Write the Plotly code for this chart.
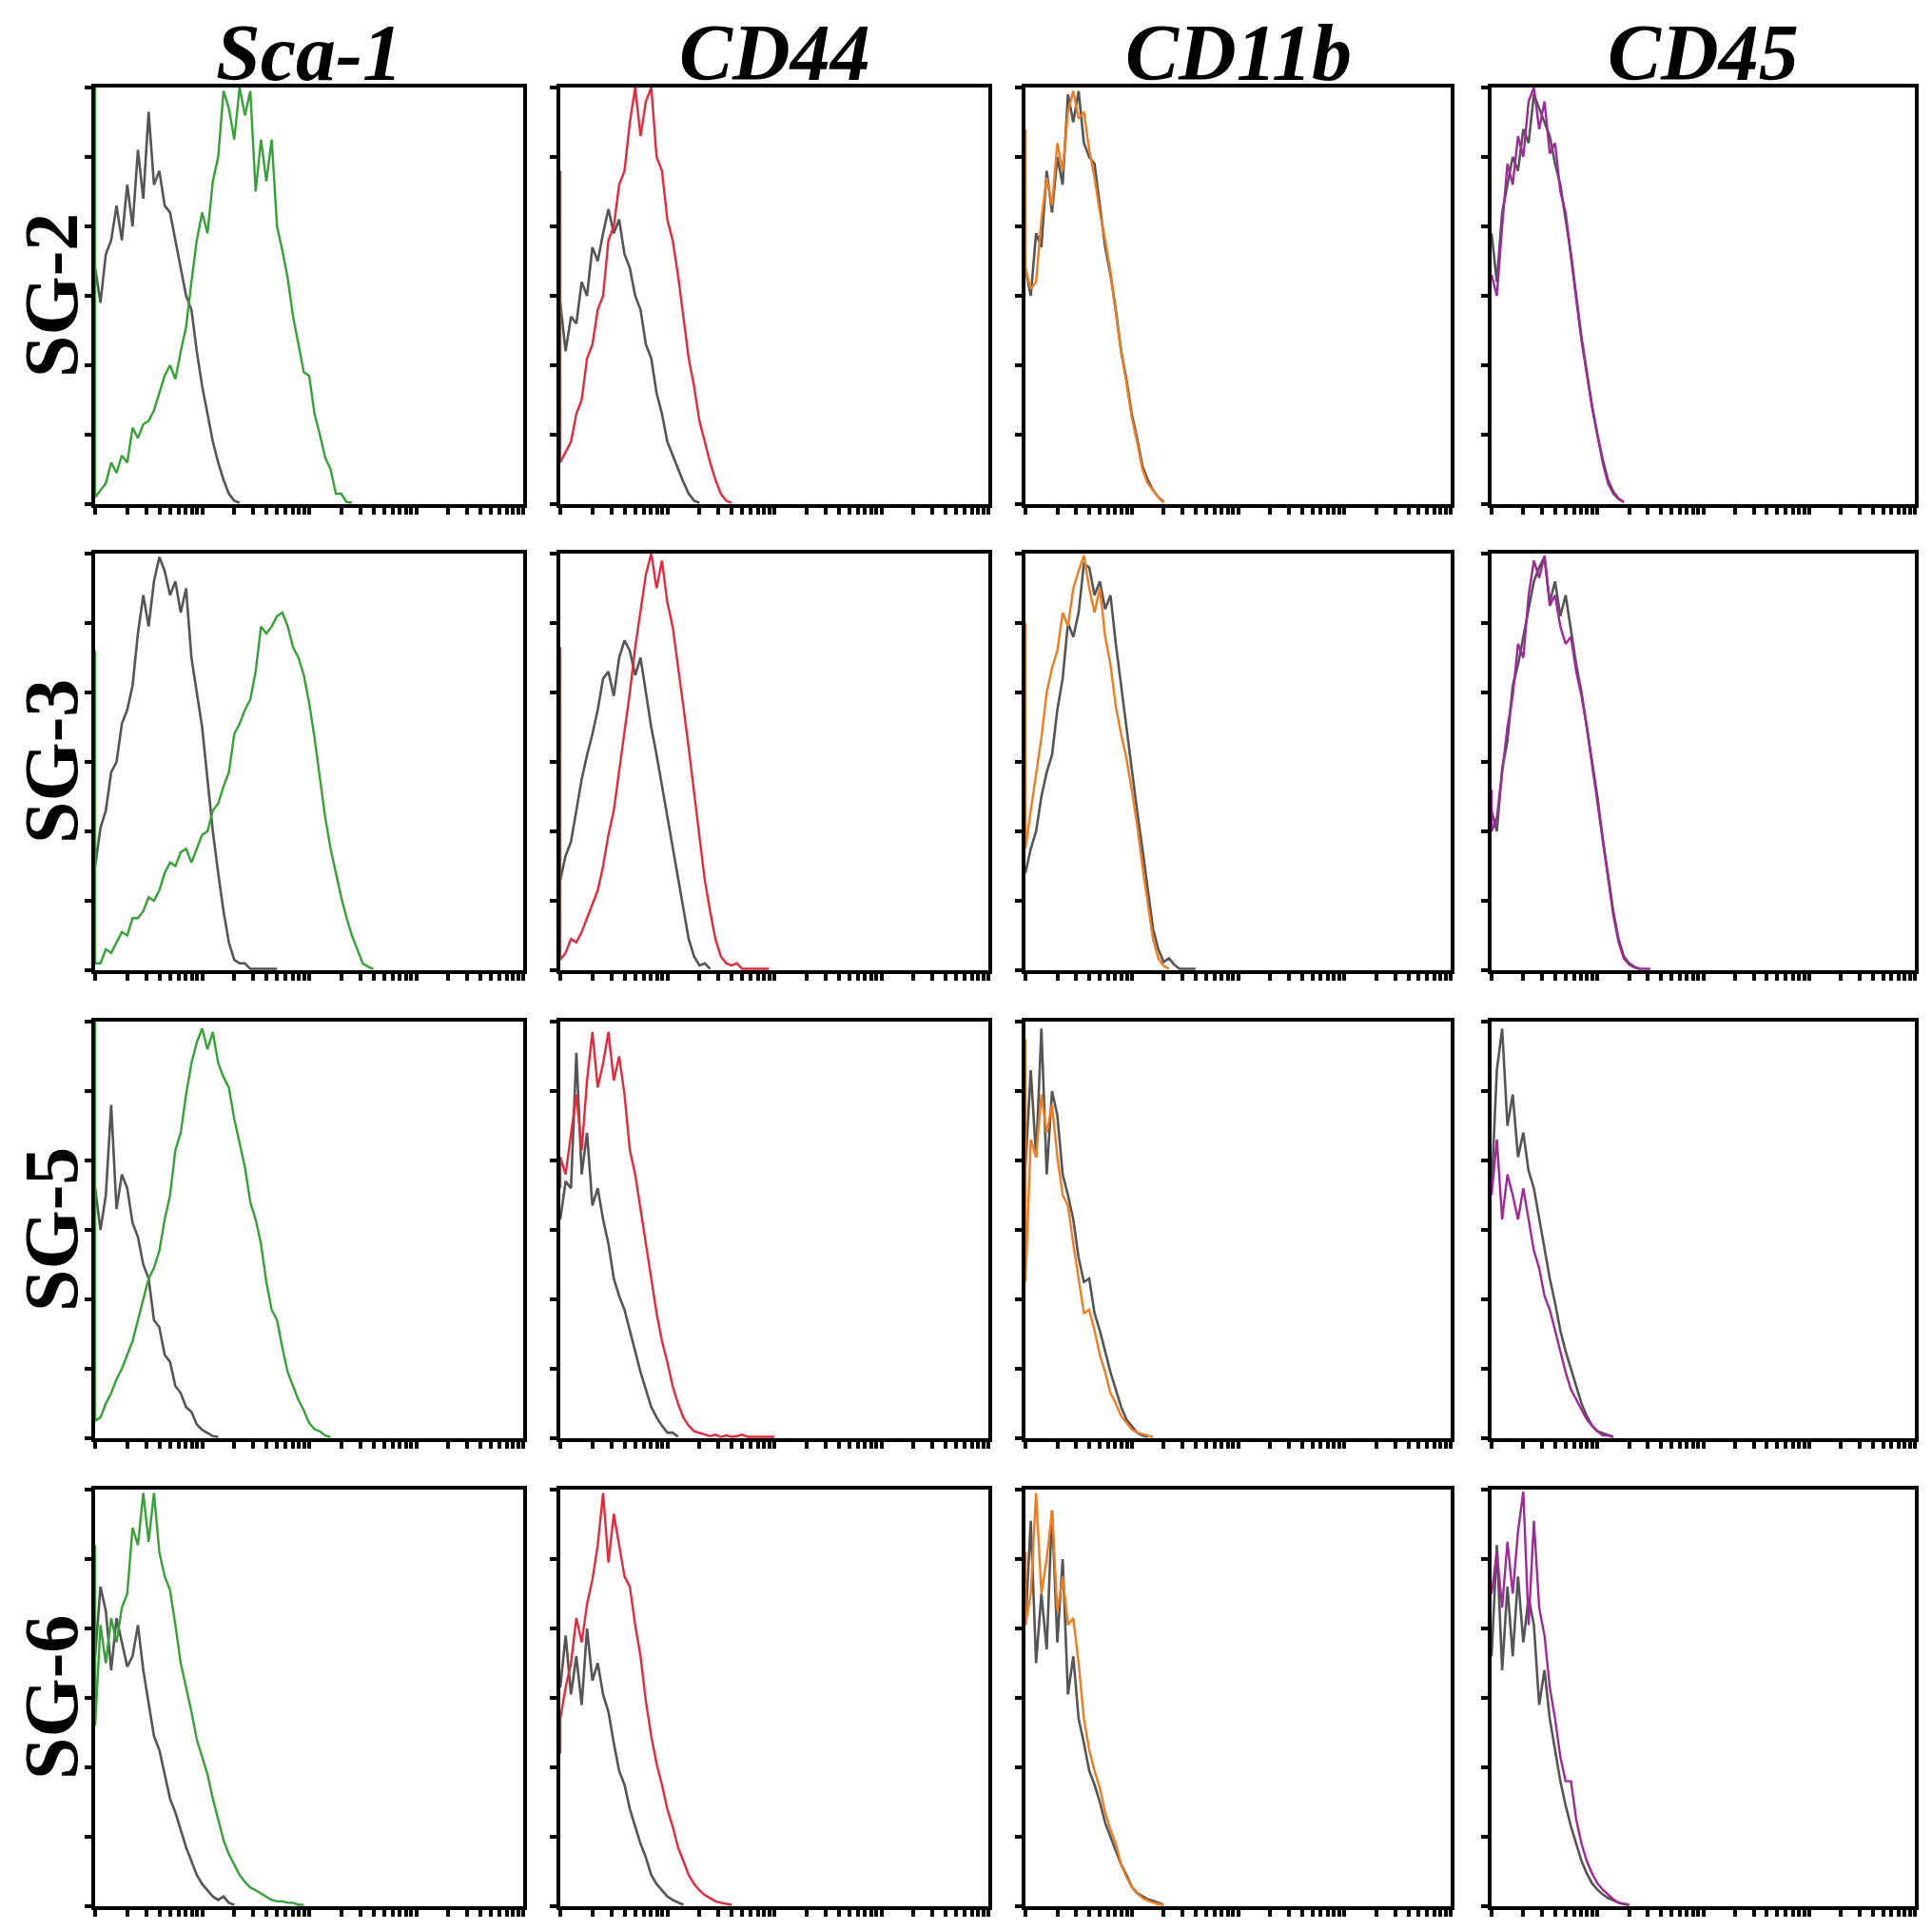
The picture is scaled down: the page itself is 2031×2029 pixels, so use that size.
import plotly.graph_objects as go

# log-decade position of each histogram channel (0 = 10^0, 4 = 10^4)
decades = [0.00, 0.05, 0.10, 0.15, 0.20, 0.25, 0.30, 0.35, 0.40, 0.45,
           0.50, 0.55, 0.60, 0.65, 0.70, 0.75, 0.80, 0.85, 0.90, 0.95,
           1.00, 1.05, 1.10, 1.15, 1.20, 1.25, 1.30, 1.35, 1.40, 1.45,
           1.50, 1.55, 1.60, 1.65, 1.70, 1.75, 1.80, 1.85, 1.90, 1.95,
           2.00, 2.05, 2.10, 2.15, 2.20, 2.25, 2.30, 2.35, 2.40, 2.45,
           2.50, 2.55, 2.60]

markers = ["Sca-1", "CD44", "CD11b", "CD45"]
samples = ["SG-2", "SG-3", "SG-5", "SG-6"]
marker_colors = ["#34a234", "#e8283a", "#f07c1e", "#a02898"]
ctrl_color = "#555555"

# grey = isotype control, coloured = antibody stained (counts, scale 0-6)
sg2_sca1_ctrl = [3.4, 2.9, 3.6, 3.8, 4.3, 3.8, 4.6, 4.0, 5.1, 4.4, 5.65, 4.6, 4.8, 4.3, 4.2, 3.8, 3.4, 3.0,
                 2.8, 2.2, 1.7, 1.3, 0.9, 0.6, 0.35, 0.15, 0.05, 0.02]
sg2_sca1_stain = [0.1, 0.2, 0.3, 0.6, 0.45, 0.7, 0.6, 1.1, 0.95, 1.15, 1.2, 1.35, 1.6, 1.85, 2.0, 1.8, 2.2,
                  2.55, 3.2, 3.8, 4.2, 3.9, 4.65, 5.0, 5.95, 5.7, 5.25, 6.0, 5.6, 5.95, 4.5, 5.25, 4.65, 5.25,
                  4.0, 3.65, 3.25, 2.7, 2.3, 1.9, 1.85, 1.3, 1.0, 0.67, 0.5, 0.15, 0.15, 0.03, 0.02]
sg2_cd44_ctrl = [2.9, 2.2, 2.7, 2.6, 3.2, 3.0, 3.7, 3.5, 3.9, 4.25, 3.9, 4.1, 3.6, 3.4, 3.0, 2.8, 2.3, 2.1,
                 1.6, 1.3, 0.9, 0.7, 0.5, 0.32, 0.15, 0.05, 0.02]
sg2_cd44_stain = [0.6, 0.75, 0.9, 1.3, 1.5, 2.1, 2.3, 2.8, 3.0, 3.8, 4.0, 4.6, 4.8, 5.5, 6.0, 5.3, 5.8, 6.0,
                  5.0, 4.8, 4.1, 3.8, 3.3, 2.7, 2.1, 1.7, 1.2, 0.9, 0.6, 0.35, 0.15, 0.05, 0.02]
sg2_cd11b_ctrl = [3.4, 3.0, 3.9, 3.7, 4.8, 4.2, 5.0, 4.6, 5.9, 5.5, 5.95, 5.2, 5.0, 4.9, 4.3, 3.7, 3.3, 2.8,
                  2.2, 1.8, 1.3, 0.95, 0.55, 0.35, 0.2, 0.1, 0.03]
sg2_cd11b_stain = [3.4, 3.1, 3.2, 4.1, 4.7, 4.3, 5.2, 4.8, 5.65, 5.95, 5.55, 5.65, 5.1, 4.7, 4.2, 3.8, 3.35,
                   2.75, 2.2, 1.75, 1.25, 0.9, 0.5, 0.3, 0.2, 0.1, 0.02]
sg2_cd45_ctrl = [3.9, 3.2, 4.2, 4.6, 5.0, 4.8, 5.4, 5.2, 5.9, 5.7, 5.5, 5.3, 4.9, 4.6, 4.1, 3.6, 3.0, 2.4,
                 1.9, 1.4, 1.0, 0.65, 0.35, 0.18, 0.08, 0.03]
sg2_cd45_stain = [3.3, 3.0, 4.0, 4.9, 4.6, 5.3, 5.0, 5.8, 6.0, 5.4, 5.8, 5.05, 5.2, 4.5, 4.2, 3.55, 2.95,
                  2.35, 1.85, 1.4, 1.0, 0.6, 0.3, 0.15, 0.07, 0.03]

sg3_sca1_ctrl = [1.5, 2.05, 2.3, 2.85, 3.0, 3.55, 3.75, 4.1, 4.85, 5.4, 4.95, 5.6, 5.95, 5.75, 5.4, 5.6,
                 5.15, 5.5, 4.5, 4.0, 3.5, 2.75, 2.0, 1.4, 0.85, 0.4, 0.15, 0.1, 0.1, 0.02, 0.02, 0.03,
                 0.02, 0.02, 0.02]
sg3_sca1_stain = [0.1, 0.1, 0.3, 0.25, 0.4, 0.55, 0.5, 0.75, 0.75, 0.85, 1.05, 1.0, 1.15, 1.4, 1.55, 1.5,
                  1.7, 1.75, 1.55, 1.75, 1.95, 2.0, 2.3, 2.4, 2.65, 2.85, 3.4, 3.55, 3.75, 3.9, 4.3, 4.95,
                  4.85, 4.95, 5.1, 5.15, 4.95, 4.65, 4.5, 4.25, 3.85, 3.35, 2.75, 2.2, 1.75, 1.4, 1.05,
                  0.75, 0.5, 0.3, 0.1, 0.05, 0.02]
sg3_cd44_ctrl = [1.3, 1.65, 1.85, 2.3, 2.75, 3.1, 3.4, 3.75, 4.2, 4.3, 3.95, 4.5, 4.75, 4.6, 4.25, 4.5, 4.0,
                 3.5, 3.1, 2.65, 2.2, 1.75, 1.3, 0.85, 0.45, 0.2, 0.07, 0.1, 0.02]
sg3_cd44_stain = [0.15, 0.25, 0.45, 0.4, 0.55, 0.75, 0.95, 1.15, 1.5, 1.95, 2.3, 2.85, 3.4, 4.0, 4.65, 5.15,
                  5.7, 6.0, 5.5, 5.9, 5.3, 4.95, 4.4, 3.8, 3.2, 2.55, 1.9, 1.3, 0.85, 0.45, 0.2, 0.1, 0.07,
                  0.1, 0.02, 0.02, 0.03, 0.02, 0.02, 0.02]
sg3_cd11b_ctrl = [1.4, 1.75, 2.0, 2.5, 2.85, 3.1, 3.75, 4.2, 5.0, 4.8, 5.15, 5.85, 5.8, 5.4, 5.6, 5.2, 5.4,
                  4.7, 4.1, 3.5, 2.85, 2.3, 1.75, 1.15, 0.6, 0.3, 0.12, 0.17, 0.08, 0.02, 0.02, 0.03, 0.02]
sg3_cd11b_stain = [1.75, 2.3, 2.8, 3.35, 4.0, 4.35, 4.6, 5.15, 4.95, 5.5, 5.75, 5.97, 5.5, 5.15, 5.5, 4.8,
                   4.4, 3.8, 3.4, 3.05, 2.6, 2.1, 1.5, 0.95, 0.45, 0.17, 0.06, 0.02]
sg3_cd45_ctrl = [2.3, 2.0, 2.9, 3.3, 4.1, 4.4, 4.8, 5.2, 5.6, 5.8, 5.95, 5.3, 5.6, 5.1, 5.4, 4.9, 4.4, 4.0,
                 3.5, 3.0, 2.5, 1.9, 1.35, 0.85, 0.45, 0.2, 0.1, 0.05, 0.02]
sg3_cd45_stain = [2.0, 2.2, 2.85, 3.5, 3.95, 4.7, 4.5, 5.4, 5.9, 5.65, 5.97, 5.25, 5.4, 4.95, 4.7, 4.8, 4.3,
                  3.95, 3.5, 2.95, 2.4, 1.85, 1.3, 0.8, 0.4, 0.17, 0.08, 0.04, 0.02, 0.02, 0.02]

sg5_sca1_ctrl = [3.6, 3.0, 3.5, 4.8, 3.3, 3.8, 3.6, 3.1, 2.9, 2.5, 2.3, 1.7, 1.6, 1.2, 1.1, 0.75, 0.65,
                 0.45, 0.38, 0.2, 0.12, 0.08, 0.03, 0.02]
sg5_sca1_stain = [0.25, 0.3, 0.5, 0.65, 0.85, 1.0, 1.2, 1.4, 1.7, 2.0, 2.3, 2.45, 2.7, 3.15, 3.5, 4.15, 4.4,
                  4.95, 5.4, 5.7, 5.9, 5.6, 5.85, 5.4, 5.2, 5.05, 4.6, 4.25, 3.9, 3.4, 3.15, 2.8, 2.25,
                  1.85, 1.7, 1.3, 0.95, 0.75, 0.55, 0.4, 0.22, 0.13, 0.1, 0.04, 0.02]
sg5_cd44_ctrl = [3.15, 3.7, 3.6, 5.55, 3.8, 4.4, 3.35, 3.6, 3.15, 2.8, 2.3, 2.05, 1.85, 1.55, 1.25, 0.95,
                 0.7, 0.45, 0.3, 0.18, 0.08, 0.08, 0.02]
sg5_cd44_stain = [4.05, 3.8, 4.4, 4.95, 4.15, 5.15, 5.85, 5.05, 5.4, 5.85, 5.15, 5.5, 4.95, 4.15, 3.8, 3.3,
                  2.8, 2.25, 1.8, 1.4, 1.1, 0.75, 0.5, 0.3, 0.18, 0.1, 0.08, 0.06, 0.03, 0.05, 0.02, 0.04,
                  0.02, 0.03, 0.05, 0.02, 0.02, 0.03, 0.02, 0.02, 0.02]
sg5_cd11b_ctrl = [3.9, 5.3, 4.05, 5.9, 3.8, 5.0, 4.65, 3.8, 3.5, 3.15, 2.6, 2.25, 2.3, 1.8, 1.55, 1.25, 0.95,
                  0.7, 0.45, 0.27, 0.18, 0.08, 0.04, 0.02]
sg5_cd11b_stain = [2.25, 4.3, 4.05, 4.95, 4.4, 4.8, 4.05, 3.5, 3.35, 2.8, 2.3, 1.8, 1.85, 1.55, 1.2, 0.95,
                   0.65, 0.5, 0.32, 0.22, 0.13, 0.08, 0.06, 0.04, 0.02]
sg5_cd45_ctrl = [3.6, 5.3, 5.9, 4.5, 4.95, 4.05, 4.4, 3.85, 3.6, 3.15, 2.7, 2.3, 1.95, 1.55, 1.25, 1.0, 0.75,
                 0.5, 0.32, 0.18, 0.1, 0.07, 0.04, 0.02]
sg5_cd45_stain = [3.5, 4.3, 3.15, 3.8, 3.5, 3.15, 3.6, 3.15, 2.7, 2.45, 2.05, 1.85, 1.55, 1.25, 0.95, 0.7,
                  0.55, 0.4, 0.27, 0.18, 0.1, 0.04, 0.04, 0.02]

sg6_sca1_ctrl = [3.6, 4.6, 4.25, 3.4, 4.15, 3.8, 3.45, 3.6, 4.05, 3.4, 2.9, 2.45, 2.25, 1.9, 1.55, 1.35, 1.1,
                 0.85, 0.65, 0.45, 0.32, 0.23, 0.14, 0.09, 0.14, 0.05, 0.02]
sg6_sca1_stain = [2.6, 4.05, 3.5, 4.15, 3.8, 4.3, 4.5, 5.45, 5.2, 5.95, 5.25, 5.95, 5.1, 4.75, 4.55, 4.05,
                  3.5, 3.15, 2.8, 2.4, 2.15, 1.9, 1.55, 1.25, 0.95, 0.75, 0.6, 0.45, 0.35, 0.27, 0.23, 0.18,
                  0.14, 0.09, 0.07, 0.07, 0.05, 0.05, 0.02, 0.02]
sg6_cd44_ctrl = [3.15, 3.9, 3.05, 3.6, 2.9, 4.0, 3.25, 3.5, 3.05, 2.8, 2.35, 1.95, 1.75, 1.4, 1.15, 0.9, 0.7,
                 0.45, 0.32, 0.23, 0.14, 0.09, 0.05, 0.02]
sg6_cd44_stain = [2.7, 3.15, 3.5, 4.15, 3.8, 4.35, 4.7, 5.2, 5.95, 4.95, 5.65, 5.2, 4.75, 4.6, 4.05, 3.6,
                  2.95, 2.45, 2.05, 1.75, 1.4, 1.15, 0.85, 0.65, 0.45, 0.32, 0.23, 0.16, 0.11, 0.07, 0.05,
                  0.03, 0.02]
sg6_cd11b_ctrl = [4.05, 5.55, 3.5, 4.5, 3.7, 5.7, 3.8, 5.0, 3.05, 3.6, 2.7, 2.35, 1.95, 1.75, 1.5, 1.2, 1.0,
                  0.8, 0.6, 0.45, 0.28, 0.19, 0.15, 0.1, 0.08, 0.05, 0.02]
sg6_cd11b_stain = [4.05, 4.5, 5.95, 4.5, 5.0, 5.7, 4.25, 4.75, 4.05, 4.15, 3.5, 2.7, 2.25, 1.95, 1.7, 1.35,
                   1.1, 0.9, 0.6, 0.42, 0.28, 0.19, 0.12, 0.08, 0.05, 0.03, 0.02]
sg6_cd45_ctrl = [3.6, 5.2, 3.4, 4.6, 3.6, 4.75, 3.8, 4.45, 4.05, 2.9, 3.4, 2.7, 2.25, 1.8, 1.45, 1.15, 0.9,
                 0.65, 0.47, 0.33, 0.24, 0.17, 0.12, 0.08, 0.05, 0.03, 0.02]
sg6_cd45_stain = [4.5, 5.1, 4.3, 5.25, 4.5, 5.4, 5.97, 4.05, 5.55, 4.3, 3.9, 3.15, 2.7, 2.15, 1.8, 1.8, 1.25,
                  0.9, 0.65, 0.47, 0.33, 0.24, 0.17, 0.1, 0.05, 0.03, 0.02]

# pile-up in the lowest channel of the stained sample (None = no pile-up)
sg2_edge = [6.5, 4.8, 5.4, None]
sg3_edge = [4.6, 4.65, 5.0, 2.6]
sg5_edge = [6.5, 3.6, 5.75, None]
sg6_edge = [5.2, 2.2, 5.1, None]

ctrl = [[sg2_sca1_ctrl, sg2_cd44_ctrl, sg2_cd11b_ctrl, sg2_cd45_ctrl],
        [sg3_sca1_ctrl, sg3_cd44_ctrl, sg3_cd11b_ctrl, sg3_cd45_ctrl],
        [sg5_sca1_ctrl, sg5_cd44_ctrl, sg5_cd11b_ctrl, sg5_cd45_ctrl],
        [sg6_sca1_ctrl, sg6_cd44_ctrl, sg6_cd11b_ctrl, sg6_cd45_ctrl]]
stain = [[sg2_sca1_stain, sg2_cd44_stain, sg2_cd11b_stain, sg2_cd45_stain],
         [sg3_sca1_stain, sg3_cd44_stain, sg3_cd11b_stain, sg3_cd45_stain],
         [sg5_sca1_stain, sg5_cd44_stain, sg5_cd11b_stain, sg5_cd45_stain],
         [sg6_sca1_stain, sg6_cd44_stain, sg6_cd11b_stain, sg6_cd45_stain]]
edges = [sg2_edge, sg3_edge, sg5_edge, sg6_edge]

# page pixels; the html body adds an 8px margin, so the figure is laid out inside it
PAGE_W, PAGE_H = 2031, 2029
OFF = 8
W, H = PAGE_W - 2 * OFF, PAGE_H - 2 * OFF
col_left = [100, 589, 1078, 1568]
col_w = [450, 450, 447, 445]
row_top = [92, 582, 1074, 1566]
ph = 438

fig = go.Figure()
layout = {}

for i, s in enumerate(samples):
    for j, m in enumerate(markers):
        k = i * 4 + j + 1
        xa = "x" if k == 1 else f"x{k}"
        ya = "y" if k == 1 else f"y{k}"

        c = ctrl[i][j]
        fig.add_trace(go.Scatter(
            x=[10 ** d for d in decades[:len(c)]], y=c,
            mode="lines", line=dict(color=ctrl_color, width=2.6),
            xaxis=xa, yaxis=ya, showlegend=False))

        st = stain[i][j]
        sx = [10 ** d for d in decades[:len(st)]]
        sy = list(st)
        if edges[i][j] is not None:
            sx = [10 ** decades[0]] + sx
            sy = [edges[i][j]] + sy
        fig.add_trace(go.Scatter(
            x=sx, y=sy, mode="lines",
            line=dict(color=marker_colors[j], width=2.4),
            xaxis=xa, yaxis=ya, showlegend=False))

        x0 = (col_left[j] - OFF) / W
        x1 = (col_left[j] - OFF + col_w[j]) / W
        y1 = 1 - (row_top[i] - OFF) / H
        y0 = 1 - (row_top[i] - OFF + ph) / H

        axis_style = dict(showgrid=False, zeroline=False, showline=True, mirror=True,
                          linecolor="black", linewidth=4, ticks="outside",
                          tickcolor="black", tickwidth=3.5, ticklen=7,
                          showticklabels=False)
        layout["xaxis" if k == 1 else f"xaxis{k}"] = dict(
            axis_style, type="log", range=[0, 4], dtick="D1",
            domain=[x0, x1], anchor=ya)
        layout["yaxis" if k == 1 else f"yaxis{k}"] = dict(
            axis_style, range=[0, 6], dtick=1, tick0=0,
            domain=[y0, y1], anchor=xa)

annotations = []
for j, m in enumerate(markers):
    annotations.append(dict(
        text=m, xref="paper", yref="paper",
        x=(col_left[j] - OFF + col_w[j] / 2) / W, y=1 - 48 / H,
        xanchor="center", yanchor="middle", showarrow=False,
        font=dict(family="Liberation Serif", size=84, color="black",
                  weight="bold", style="italic")))
for i, s in enumerate(samples):
    annotations.append(dict(
        text=s, xref="paper", yref="paper",
        x=46 / W, y=1 - (row_top[i] - OFF + ph / 2) / H,
        xanchor="center", yanchor="middle", showarrow=False, textangle=-90,
        font=dict(family="Liberation Serif", size=80, color="black", weight="bold")))

fig.update_layout(
    **layout,
    annotations=annotations,
    width=W, height=H,
    margin=dict(l=0, r=0, t=0, b=0),
    paper_bgcolor="white", plot_bgcolor="white",
    showlegend=False,
)

fig.write_html("out.html")
